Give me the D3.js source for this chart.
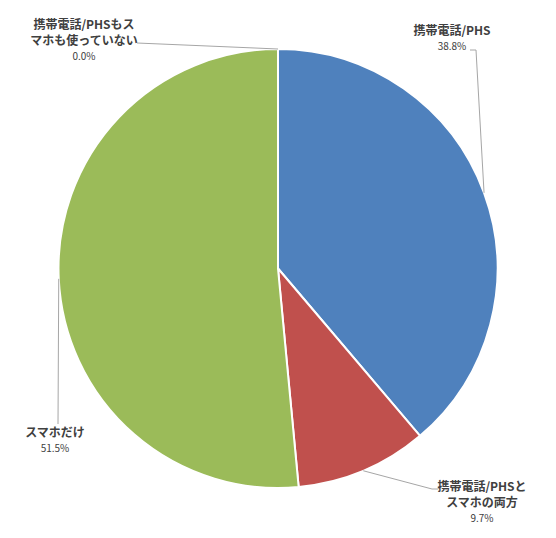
<!DOCTYPE html>
<html><head><meta charset="utf-8">
<script src="https://cdn.jsdelivr.net/npm/d3@7"></script>
<style>body{margin:0;background:#fff}</style>
</head><body><svg id="c" width="556" height="538"></svg>
<script>
const categories = ["携帯電話/PHS", "携帯電話/PHSとスマホの両方", "スマホだけ", "携帯電話/PHSもスマホも使っていない"];
const values = [38.8, 9.7, 51.5, 0.0];
const labelLines = [["携帯電話/PHS"], ["携帯電話/PHSと", "スマホの両方"], ["スマホだけ"], ["携帯電話/PHSもス", "マホも使っていない"]];
const colors = ["#4F81BD", "#C0504D", "#9BBB59", "#8C8C8C"];

// layout
const cx = 278, cy = 268.5, R = 219.5;
const labelPos = [
  {x: 452, y: 35, bend: [[476, 50], [470, 50]]},
  {x: 482, y: 491, bend: [[432, 489], [438, 489]]},
  {x: 55, y: 437, bend: [[58, 424]]},
  {x: 84, y: 29, bend: [[137, 43]]}
];

const svg = d3.select("#c");
const g = svg.append("g").attr("transform", `translate(${cx},${cy})`);
const pie = d3.pie().sort(null).value(d => d)(values);
const arc = d3.arc().innerRadius(0).outerRadius(R);

g.selectAll("path.s").data(pie).join("path")
  .attr("d", arc)
  .attr("fill", (d, i) => colors[i])
  .attr("stroke", "#fff").attr("stroke-width", 2).attr("stroke-linejoin", "round");

// leader lines
pie.forEach((d, i) => {
  const a = (d.startAngle + d.endAngle) / 2;
  const p0 = [cx + R * Math.sin(a), cy - R * Math.cos(a)];
  const pts = [p0].concat(labelPos[i].bend);
  svg.append("path")
    .attr("d", d3.line()(pts))
    .attr("fill", "none").attr("stroke", "#A6A6A6").attr("stroke-width", 1);
});

// labels
labelLines.forEach((lines, i) => {
  const lp = labelPos[i];
  const t = svg.append("text").attr("text-anchor", "middle")
    .attr("font-family", "'Noto Sans CJK JP', 'Noto Sans', sans-serif");
  lines.forEach((ln, j) => {
    t.append("tspan").attr("x", lp.x).attr("y", lp.y + j * 16)
      .attr("font-size", 12).attr("font-weight", "bold").attr("fill", "#404040").text(ln);
  });
  t.append("tspan").attr("x", lp.x).attr("y", lp.y + lines.length * 16 - 1)
    .attr("font-size", 10).attr("fill", "#404040")
    .text(values[i].toFixed(1) + "%");
});
</script></body></html>
